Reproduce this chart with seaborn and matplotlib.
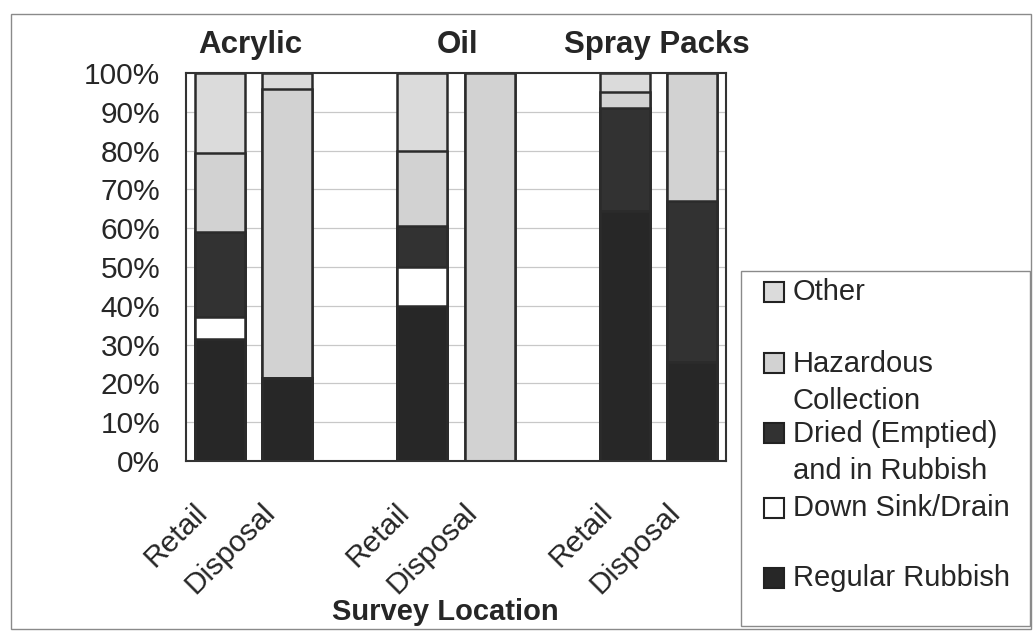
import numpy as np
import pandas as pd
import matplotlib
matplotlib.use("Agg")
import matplotlib.pyplot as plt
import matplotlib.transforms as mtransforms
from matplotlib.patches import Rectangle
import seaborn as sns

# ---------------- data ----------------
categories = ["Acrylic Retail", "Acrylic Disposal", "gap1", "Oil Retail",
              "Oil Disposal", "gap2", "Spray Retail", "Spray Disposal"]
tick_labels = ["Retail", "Disposal", "", "Retail", "Disposal", "", "Retail", "Disposal"]
groups = ["Acrylic", "Oil", "Spray Packs"]
series = ["Regular Rubbish", "Down Sink/Drain", "Dried (Emptied)\nand in Rubbish",
          "Hazardous\nCollection", "Other"]
regular_rubbish = [31.5, 21.5, None, 40.0, 0.0, None, 64.5, 25.5]
down_sink = [5.5, 0.0, None, 10.0, 0.0, None, 0.0, 0.0]
dried_rubbish = [22.0, 0.0, None, 10.5, 0.0, None, 26.5, 41.5]
hazardous = [20.5, 74.5, None, 19.5, 100.0, None, 4.0, 33.0]
other = [20.5, 4.0, None, 20.0, 0.0, None, 5.0, 0.0]

colors = ["#272727", "#ffffff", "#323232", "#d2d2d2", "#dbdbdb"]
edge = "#2b2b2b"

sns.set_style("white")
plt.rcParams['font.family'] = ['Liberation Sans', 'DejaVu Sans']

values = [regular_rubbish, down_sink, dried_rubbish, hazardous, other]
df = pd.DataFrame({"category": categories})
for name, vals in zip(series, values):
    df[name] = vals
df = df.dropna().reset_index(drop=True)
cum = df[series].cumsum(axis=1)
cum["category"] = df["category"]

W, H = 1035, 631
fig = plt.figure(figsize=(W / 100, H / 100), dpi=100)
ax = fig.add_axes([186 / W, 1 - 461 / H, (726 - 186) / W, (461 - 73) / H])

# horizontal gridlines
for yv in range(10, 100, 10):
    ax.axhline(yv, color="#c8c8c8", lw=0.9, zorder=0)

# overlay cumulative bars from the top series down
for i in range(len(series) - 1, -1, -1):
    sns.barplot(data=cum, x="category", y=series[i], order=categories,
                color=colors[i], saturation=1, width=0.74, errorbar=None,
                edgecolor=edge, linewidth=1.8, ax=ax, zorder=2)

ax.set_xlim(-0.5, 7.5)
ax.set_ylim(0, 100)
ax.set_xlabel("")
ax.set_ylabel("")

ax.set_yticks(np.arange(0, 101, 10))
ax.set_yticklabels([f"{v}%" for v in range(0, 101, 10)], fontsize=21.5)
ax.tick_params(axis="y", direction="out", length=6.5, width=1.2, color="#333333", pad=12)

ax.set_xticks(np.arange(-0.5, 8, 1))
ax.set_xticklabels([""] * 9)
ax.set_xticks(np.arange(8), minor=True)
ax.set_xticklabels(tick_labels, minor=True, rotation=45, ha="right", va="center",
                   rotation_mode="anchor", fontsize=21.5)
ax.tick_params(axis="x", which="major", direction="out", length=6.5, width=1.2, color="#333333")
ax.tick_params(axis="x", which="minor", length=0, pad=0)
offset = mtransforms.ScaledTranslation(-0.17, -0.47, fig.dpi_scale_trans)
for lbl in ax.get_xticklabels(minor=True):
    lbl.set_transform(lbl.get_transform() + offset)

for sp in ax.spines.values():
    sp.set_visible(True)
    sp.set_color("#333333")
    sp.set_linewidth(1.5)

trans = mtransforms.blended_transform_factory(ax.transData, ax.transAxes)
for x, g in zip([0.45, 3.52, 6.47], groups):
    ax.text(x, (461 - 45) / 388, g, transform=trans, ha="center", va="center",
            fontsize=22.5, fontweight="bold")

fig.text(445 / W, 1 - 612 / H, "Survey Location", ha="center", va="center",
         fontsize=21, fontweight="bold")

# legend (drawn as a box with entries)
fig.patches.append(Rectangle((741 / W, 1 - 626 / H), (1030 - 741) / W, (626 - 271) / H,
                             transform=fig.transFigure, fill=True, facecolor="white",
                             edgecolor="#8a8a8a", lw=1.0, zorder=5))
leg_y = [292, 363, 433, 508, 578]
for k, i in enumerate(range(len(series) - 1, -1, -1)):
    y = leg_y[k]
    fig.patches.append(Rectangle((764 / W, 1 - (y + 10) / H), 20 / W, 20 / H,
                                 transform=fig.transFigure, facecolor=colors[i],
                                 edgecolor="#222222", lw=1.5, zorder=6))
    multi = "\n" in series[i]
    tr = fig.transFigure
    if multi:
        tr = fig.transFigure + mtransforms.ScaledTranslation(0, 0.125, fig.dpi_scale_trans)
    fig.text(793 / W, 1 - y / H, series[i], ha="left", va="top" if multi else "center",
             fontsize=21, linespacing=1.38, zorder=7, transform=tr)

fig.patches.append(Rectangle((11 / W, 1 - 629 / H), (1031 - 11) / W, (629 - 14) / H,
                             transform=fig.transFigure, fill=False,
                             edgecolor="#8a8a8a", lw=1.0))

fig.savefig("out.png", dpi=100)
